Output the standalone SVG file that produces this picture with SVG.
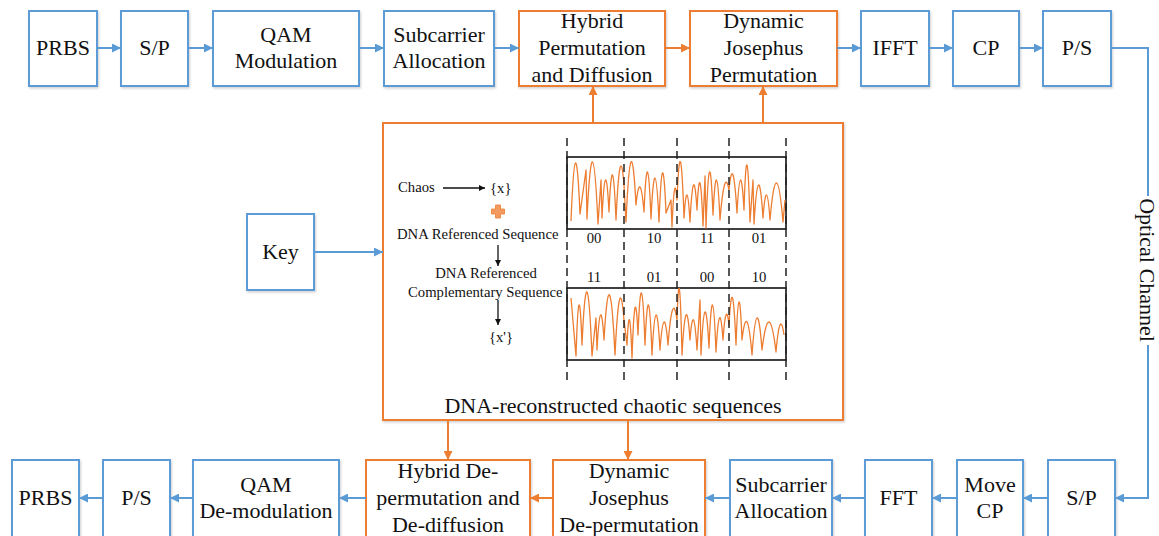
<svg xmlns="http://www.w3.org/2000/svg" width="1159" height="536" viewBox="0 0 1159 536">
  <style>
    .b { fill: #fff; stroke: #5B9BD5; stroke-width: 2; filter: url(#sh); }
    .o { fill: #fff; stroke: #ED7D31; stroke-width: 2; filter: url(#sh); }
    .t { font-family: "Liberation Serif", "Times New Roman", serif; font-size: 22px; text-anchor: middle; fill: #111; }
    .s { font-family: "Liberation Serif", "Times New Roman", serif; font-size: 14.7px; fill: #111; }
    .m { text-anchor: middle; }
    .lb { stroke: #5B9BD5; stroke-width: 2; fill: none; }
    .lo { stroke: #ED7D31; stroke-width: 2; fill: none; }
    .lk { stroke: #111; stroke-width: 1.3; fill: none; }
    .dash { stroke: #222; stroke-width: 1.5; stroke-dasharray: 8 5; fill: none; }
    .frame { fill: none; stroke: #111; stroke-width: 1.6; }
    .wave { fill: none; stroke: #ED7D31; stroke-width: 1.3; stroke-linejoin: round; }
  </style>
  <defs>
    <filter id="sh" x="-10%" y="-10%" width="130%" height="130%">
      <feDropShadow dx="1" dy="1.5" stdDeviation="1" flood-color="#000" flood-opacity="0.18"/>
    </filter>
    <marker id="ab" viewBox="0 0 10 10" refX="10" refY="5" markerWidth="10" markerHeight="9" markerUnits="userSpaceOnUse" orient="auto">
      <path d="M0,0 L10,5 L0,10 z" fill="#5B9BD5"/>
    </marker>
    <marker id="ao" viewBox="0 0 10 10" refX="10" refY="5" markerWidth="10" markerHeight="9" markerUnits="userSpaceOnUse" orient="auto">
      <path d="M0,0 L10,5 L0,10 z" fill="#ED7D31"/>
    </marker>
    <marker id="ak" viewBox="0 0 10 10" refX="10" refY="5" markerWidth="7" markerHeight="6" markerUnits="userSpaceOnUse" orient="auto">
      <path d="M0,0 L10,5 L0,10 z" fill="#111"/>
    </marker>
  </defs>

  <rect width="1159" height="536" fill="#fff"/>

  <!-- transmitter chain -->
  <g id="tx-prbs"><rect class="b" x="29" y="11" width="68" height="75"/><text class="t" x="63" y="55">PRBS</text></g>
  <g id="tx-sp"><rect class="b" x="121" y="11" width="67" height="75"/><text class="t" x="154.5" y="55">S/P</text></g>
  <g id="tx-qam"><rect class="b" x="213" y="11" width="146" height="75"/><text class="t" x="286" y="42">QAM</text><text class="t" x="286" y="68">Modulation</text></g>
  <g id="tx-subcarrier"><rect class="b" x="384" y="11" width="110" height="75"/><text class="t" x="439" y="42">Subcarrier</text><text class="t" x="439" y="68">Allocation</text></g>
  <g id="tx-hybrid"><rect class="o" x="519" y="11" width="146" height="75"/><text class="t" x="592" y="28">Hybrid</text><text class="t" x="592" y="55">Permutation</text><text class="t" x="592" y="82">and Diffusion</text></g>
  <g id="tx-josephus"><rect class="o" x="690" y="11" width="147" height="75"/><text class="t" x="763.5" y="28">Dynamic</text><text class="t" x="763.5" y="55">Josephus</text><text class="t" x="763.5" y="82">Permutation</text></g>
  <g id="tx-ifft"><rect class="b" x="861" y="11" width="68" height="75"/><text class="t" x="895" y="55">IFFT</text></g>
  <g id="tx-cp"><rect class="b" x="953" y="11" width="66" height="75"/><text class="t" x="986" y="55">CP</text></g>
  <g id="tx-ps"><rect class="b" x="1043" y="11" width="68" height="75"/><text class="t" x="1077" y="55">P/S</text></g>

  <!-- key -->
  <g id="key"><rect class="b" x="247" y="214" width="67" height="76"/><text class="t" x="280.5" y="259">Key</text></g>

  <!-- chaotic sequence generator -->
  <g id="dna-chaos">
    <rect class="o" x="383" y="123" width="460" height="297"/>
    <text class="s" x="398" y="192">Chaos</text>
    <line class="lk" x1="443" y1="188" x2="485" y2="188" marker-end="url(#ak)"/>
    <text class="s" x="490" y="193">{x}</text>
    <path d="M495.5,205 h5 v4 h4 v5 h-4 v4 h-5 v-4 h-4 v-5 h4 z" fill="#F29A60" stroke="#ED7D31" stroke-width="0.8"/>
    <text class="s" x="397" y="239">DNA Referenced Sequence</text>
    <line class="lk" x1="498" y1="245" x2="498" y2="266" marker-end="url(#ak)"/>
    <text class="s m" x="486" y="278">DNA Referenced</text>
    <text class="s" x="408" y="297">Complementary Sequence</text>
    <line class="lk" x1="498" y1="300" x2="498" y2="325" marker-end="url(#ak)"/>
    <text class="s m" x="501" y="342">{x'}</text>

    <rect class="frame" x="567" y="157" width="219" height="72"/>
    <rect class="frame" x="567" y="288" width="219" height="72"/>

    <path class="wave" d="M571,221 Q575.5,108.5 580,214 L586,170 L587,219 Q592.5,102.5 598,224 L601,180 L602,218 Q605.5,145 609,212 Q612.5,134 616,220 Q620,133.5 624,185 L626,222 Q631,110.5 636,205 Q640,165.5 644,212 Q647.5,128.5 651,219 Q655,135.5 659,222 Q662.5,128.5 666,213 L671,200 L672,227 Q674.5,166.5 677,200 Q680.5,115 684,218 Q687,170 690,222 Q693.5,154 697,210 Q700,148 703,226 L705,176 L706,228 Q709.5,122.5 713,215 Q716.5,142.5 720,220 Q724.5,165 729,190 Q733,148.5 737,213 Q740.5,148.5 744,210 Q747,114 750,222 L753,180 L754,224 Q758.5,149 763,218 Q766.5,171 770,220 Q776.5,145 783,222 L785,200"/>
    <path class="wave" d="M571,298 L576,356 Q579,259.5 582,345 Q587,233.5 592,356 L596,318 L597,350 Q600.5,285 604,340 Q609.5,242.5 615,355 Q619.5,262.5 624,320 L627,345 Q629.5,288.5 632,358 Q635,269.5 638,335 Q641.5,246 645,345 Q648.5,260 652,355 Q656,277.5 660,350 Q664,296.5 668,345 Q672.5,287.5 677,320 Q679.5,242.5 682,355 Q686,282.5 690,340 Q693.5,295 697,350 L700,300 L701,355 Q705,272.5 709,348 Q712.5,260 716,352 Q719.5,290 723,340 Q726,297.5 729,325 Q732.5,261 736,345 Q739,261.5 742,340 Q747,296.5 752,355 Q757,283.5 762,350 Q769,293 776,352 Q780,306.5 784,335"/>

    <line class="dash" x1="567" y1="138" x2="567" y2="385"/>
    <line class="dash" x1="624" y1="138" x2="624" y2="385"/>
    <line class="dash" x1="677" y1="138" x2="677" y2="385"/>
    <line class="dash" x1="729" y1="138" x2="729" y2="385"/>
    <line class="dash" x1="786" y1="138" x2="786" y2="385"/>

    <text class="s m" x="594" y="243">00</text>
    <text class="s m" x="654" y="243">10</text>
    <text class="s m" x="707" y="243">11</text>
    <text class="s m" x="759" y="243">01</text>
    <text class="s m" x="594" y="282">11</text>
    <text class="s m" x="654" y="282">01</text>
    <text class="s m" x="707" y="282">00</text>
    <text class="s m" x="759" y="282">10</text>

    <text class="t" x="613" y="413">DNA-reconstructed chaotic sequences</text>
  </g>

  <!-- receiver chain -->
  <g id="rx-prbs"><rect class="b" x="12" y="460" width="67" height="78"/><text class="t" x="45.5" y="505">PRBS</text></g>
  <g id="rx-ps"><rect class="b" x="103" y="460" width="67" height="78"/><text class="t" x="136.5" y="505">P/S</text></g>
  <g id="rx-qam"><rect class="b" x="193" y="460" width="146" height="78"/><text class="t" x="266" y="492">QAM</text><text class="t" x="266" y="518">De-modulation</text></g>
  <g id="rx-hybrid"><rect class="o" x="366" y="460" width="164" height="78"/><text class="t" x="448" y="478">Hybrid De-</text><text class="t" x="448" y="505">permutation and</text><text class="t" x="448" y="532">De-diffusion</text></g>
  <g id="rx-josephus"><rect class="o" x="553" y="460" width="152" height="78"/><text class="t" x="629" y="478">Dynamic</text><text class="t" x="629" y="505">Josephus</text><text class="t" x="629" y="532">De-permutation</text></g>
  <g id="rx-subcarrier"><rect class="b" x="730" y="460" width="102" height="78"/><text class="t" x="781" y="492">Subcarrier</text><text class="t" x="781" y="518">Allocation</text></g>
  <g id="rx-fft"><rect class="b" x="865" y="460" width="67" height="78"/><text class="t" x="898.5" y="505">FFT</text></g>
  <g id="rx-movecp"><rect class="b" x="957" y="460" width="66" height="78"/><text class="t" x="990" y="492">Move</text><text class="t" x="990" y="518">CP</text></g>
  <g id="rx-sp"><rect class="b" x="1048" y="460" width="67" height="78"/><text class="t" x="1081.5" y="505">S/P</text></g>

  <!-- connectors -->
  <g id="connectors">
    <line class="lb" x1="97" y1="48" x2="121" y2="48" marker-end="url(#ab)"/>
    <line class="lb" x1="188" y1="48" x2="213" y2="48" marker-end="url(#ab)"/>
    <line class="lb" x1="359" y1="48" x2="384" y2="48" marker-end="url(#ab)"/>
    <line class="lb" x1="494" y1="48" x2="519" y2="48" marker-end="url(#ab)"/>
    <line class="lo" x1="665" y1="48" x2="690" y2="48" marker-end="url(#ao)"/>
    <line class="lb" x1="837" y1="48" x2="861" y2="48" marker-end="url(#ab)"/>
    <line class="lb" x1="929" y1="48" x2="953" y2="48" marker-end="url(#ab)"/>
    <line class="lb" x1="1019" y1="48" x2="1043" y2="48" marker-end="url(#ab)"/>

    <path class="lb" d="M1111,48 H1148 V196 M1148,345 V498 H1115" marker-end="url(#ab)"/>
    <text class="t" transform="translate(1140,270) rotate(90)">Optical Channel</text>

    <line class="lb" x1="314" y1="252" x2="383" y2="252" marker-end="url(#ab)"/>

    <line class="lo" x1="593" y1="123" x2="593" y2="86" marker-end="url(#ao)"/>
    <line class="lo" x1="763" y1="123" x2="763" y2="86" marker-end="url(#ao)"/>
    <line class="lo" x1="448" y1="420" x2="448" y2="460" marker-end="url(#ao)"/>
    <line class="lo" x1="628" y1="420" x2="628" y2="460" marker-end="url(#ao)"/>

    <line class="lb" x1="1048" y1="498" x2="1023" y2="498" marker-end="url(#ab)"/>
    <line class="lb" x1="957" y1="498" x2="932" y2="498" marker-end="url(#ab)"/>
    <line class="lb" x1="865" y1="498" x2="832" y2="498" marker-end="url(#ab)"/>
    <line class="lb" x1="730" y1="498" x2="705" y2="498" marker-end="url(#ab)"/>
    <line class="lo" x1="553" y1="498" x2="530" y2="498" marker-end="url(#ao)"/>
    <line class="lb" x1="366" y1="498" x2="339" y2="498" marker-end="url(#ab)"/>
    <line class="lb" x1="193" y1="498" x2="170" y2="498" marker-end="url(#ab)"/>
    <line class="lb" x1="103" y1="498" x2="79" y2="498" marker-end="url(#ab)"/>
  </g>
</svg>
